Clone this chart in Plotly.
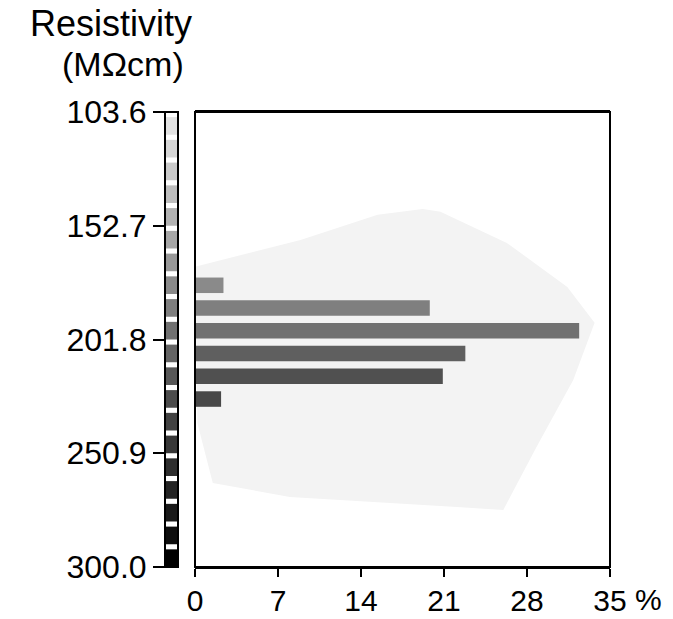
import numpy as np
import plotly.graph_objects as go

W, H = 673, 619

# Resistivity classes (MΩcm, class centres) and share of samples in each (%)
bin_centers = [178.4, 188.2, 198.0, 207.8, 217.7, 227.5]
percent = [2.4, 19.8, 32.4, 22.8, 20.9, 2.2]
bar_grays = [138, 127, 113, 95, 80, 72]

# Grey-level scale strip: 20 levels between 103.6 and 300.0 MΩcm
scale_min, scale_max, n_levels = 103.6, 300.0, 20
scale_grays = [226, 214, 202, 190, 178, 166, 152, 138, 127, 113,
               100, 88, 76, 66, 56, 46, 36, 26, 14, 0]

y_tick_vals = [103.6, 152.7, 201.8, 250.9, 300.0]
y_tick_text = ["103.6", "152.7", "201.8", "250.9", "300.0"]
x_tick_vals = [0, 7, 14, 21, 28, 35]
x_tick_text = ["0", "7", "14", "21", "28", "35"]

# Faint envelope drawn behind the histogram (%, MΩcm)
env_x = [0.0, 8.9, 15.4, 19.2, 20.7, 26.3, 31.4, 33.7, 31.9, 28.8, 26.0, 22.1, 8.0, 1.5, 0.2]
env_y = [170.4, 158.8, 148.0, 145.5, 146.7, 160.1, 179.1, 194.6, 219.3, 248.2, 275.4, 274.1, 269.8, 263.7, 237.8]

FONT = "Liberation Sans, Arial, Helvetica, sans-serif"

def gray(g):
    return f"rgb({g},{g},{g})"

fig = go.Figure()

# histogram bars
fig.add_trace(go.Bar(
    x=percent, y=bin_centers, orientation="h", base=0,
    width=6.7,
    marker=dict(color=[gray(g) for g in bar_grays], line=dict(width=0)),
    xaxis="x", yaxis="y", showlegend=False,
))

# grey scale strip, a white gap at the top of each level
step = (scale_max - scale_min) / n_levels
edges = scale_min + step * np.arange(n_levels + 1)
gap = 2.2
seg_centers = (edges[:-1] + gap + edges[1:]) / 2
fig.add_trace(go.Bar(
    x=[1] * n_levels, y=seg_centers, orientation="h", base=0,
    width=step - gap,
    marker=dict(color=[gray(g) for g in scale_grays], line=dict(width=0)),
    xaxis="x2", yaxis="y", showlegend=False,
))

# envelope as a path in data coordinates, kept beneath the bars
env_path = "M " + " L ".join(f"{x},{y}" for x, y in zip(env_x, env_y)) + " Z"

y_dom = [1 - 567 / H, 1 - 112 / H]
y_tick_font = dict(family=FONT, size=32, color="black")
x_tick_font = dict(family=FONT, size=30, color="black")

fig.update_layout(
    width=W, height=H,
    margin=dict(l=0, r=0, t=0, b=0),
    paper_bgcolor="white", plot_bgcolor="white",
    barmode="overlay",
    xaxis=dict(
        domain=[195 / W, 610 / W], range=[0, 35], anchor="y", automargin=False,
        showline=True, linecolor="black", linewidth=2, mirror=True,
        ticks="outside", ticklen=8, tickwidth=2, tickcolor="black",
        tickvals=x_tick_vals, ticktext=x_tick_text, tickfont=x_tick_font,
        ticklabelstandoff=-2,
        showgrid=False, zeroline=False,
    ),
    xaxis2=dict(
        domain=[165 / W, 178 / W], range=[0, 1], anchor="y", automargin=False,
        showline=False, showticklabels=False, ticks="",
        showgrid=False, zeroline=False,
    ),
    yaxis=dict(
        domain=y_dom, range=[scale_max, scale_min], anchor="x2", side="left",
        automargin=False,
        showline=False, ticks="outside", ticklen=11, tickwidth=2, tickcolor="black",
        tickvals=y_tick_vals, ticktext=y_tick_text, tickfont=y_tick_font,
        showgrid=False, zeroline=False,
    ),
    shapes=[
        dict(type="path", path=env_path, xref="x", yref="y", layer="below",
             fillcolor="#f3f3f3", line=dict(width=0)),
        dict(type="rect", xref="x domain", yref="y domain", x0=0, x1=1, y0=0, y1=1,
             line=dict(color="black", width=2)),
        dict(type="rect", xref="x2 domain", yref="y domain", x0=0, x1=1, y0=0, y1=1,
             line=dict(color="black", width=2)),
    ],
    annotations=[
        dict(text="Resistivity", xref="paper", yref="paper", x=111 / W, y=1 - 24 / H,
             xanchor="center", yanchor="middle", showarrow=False,
             font=dict(family=FONT, size=36, color="black")),
        dict(text="(MΩcm)", xref="paper", yref="paper", x=123 / W, y=1 - 64 / H,
             xanchor="center", yanchor="middle", showarrow=False,
             font=dict(family=FONT, size=34, color="black")),
        dict(text="%", xref="paper", yref="paper", x=648 / W, y=1 - 599 / H,
             xanchor="center", yanchor="middle", showarrow=False,
             font=x_tick_font),
    ],
)

fig.write_html("out.html")
